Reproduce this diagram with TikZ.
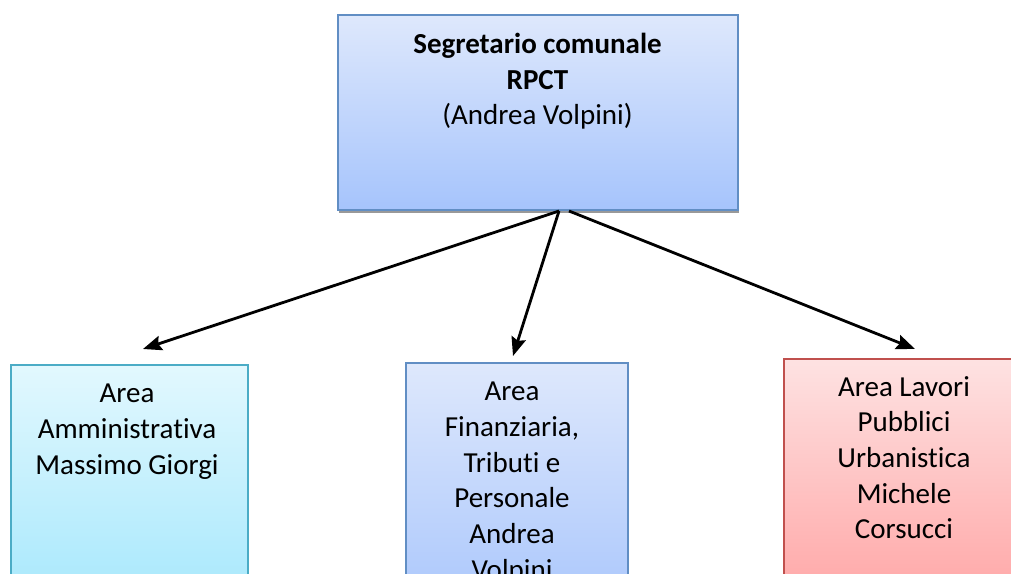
\documentclass[tikz,border=0pt]{standalone}
\usepackage{fontspec}
\setmainfont{Carlito}[RawFeature={-liga}]
\usetikzlibrary{arrows.meta,shadows}
\definecolor{bluebd}{HTML}{4F81BD}
\definecolor{cyanbd}{HTML}{4BACC6}
\definecolor{redbd}{HTML}{C0504D}
\tikzset{
  box/.style={draw, line width=1.5pt, rectangle, inner sep=0pt, anchor=north west},
  bluebox/.style={box, draw=bluebd!90, top color={rgb,255:red,222;green,232;blue,252}, bottom color={rgb,255:red,166;green,196;blue,252}},
  cyanbox/.style={box, draw=cyanbd, top color={rgb,255:red,226;green,248;blue,254}, bottom color={rgb,255:red,160;green,230;blue,252}},
  redbox/.style={box, draw=redbd, top color={rgb,255:red,254;green,226;blue,226}, bottom color={rgb,255:red,255;green,160;blue,160}},
  txt/.style={anchor=north, align=center, inner sep=0pt, font=\fontsize{21.75}{26.75}\selectfont},
  conn/.style={line width=2.1pt, -{Stealth[length=14pt,width=11pt,inset=2pt]}},
}
\begin{document}
\begin{tikzpicture}[x=0.75pt,y=-0.75pt]
\useasboundingbox (0,0) rectangle (1011,574);
\clip (0,0) rectangle (1011,574);
% shadow of top box
\fill[black!40] (339,16) rectangle (739,213);
\node[bluebox, minimum width=300pt, minimum height=146.25pt] (top) at (337,14) {};
\node[txt] (toptxt) at (537.5,33) {\textbf{Segretario comunale}\\\textbf{RPCT}\\(Andrea Volpini)};
% left box
\node[cyanbox, minimum width=177.75pt, minimum height=200pt] (left) at (10,364) {};
\node[txt] (lefttxt) at (127,384) {Area\\Amministrativa\\Massimo Giorgi};
% middle box
\node[bluebox, minimum width=166.5pt, minimum height=200pt] (mid) at (405,362) {};
\node[txt] (midtxt) at (512,382) {Area\\Finanziaria,\\Tributi e\\Personale\\Andrea\\Volpini};
% right box
\node[redbox, minimum width=181.5pt, minimum height=200pt] (right) at (783,358) {};
\node[txt] (righttxt) at (904,376) {Area Lavori\\Pubblici\\Urbanistica\\Michele\\Corsucci};
% connectors
\coordinate (s1) at (559,211);
\coordinate (s3) at (569,211);
\coordinate (e1) at (143,349);
\coordinate (e2) at (513,356);
\coordinate (e3) at (915,349);
\draw[conn] (s1) -- (e1);
\draw[conn] (s1) -- (e2);
\draw[conn] (s3) -- (e3);
\end{tikzpicture}
\end{document}
